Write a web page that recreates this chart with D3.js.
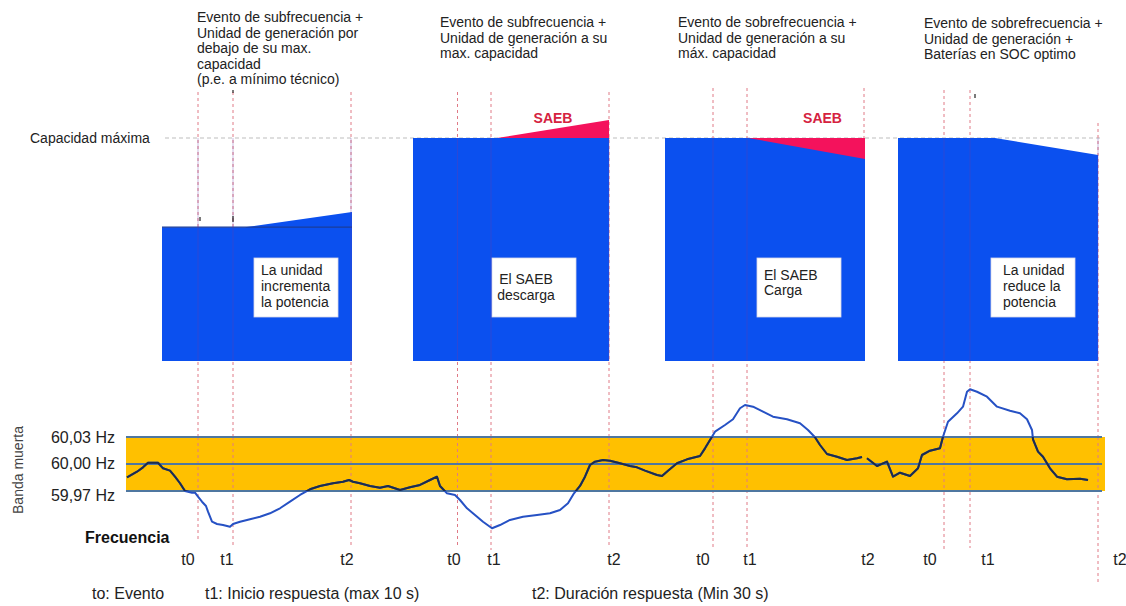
<!DOCTYPE html>
<html><head><meta charset="utf-8">
<script src="https://cdn.jsdelivr.net/npm/d3@7"></script>
<style>
body{margin:0;background:#fff}
svg{display:block}
text{font-family:"Liberation Sans",Arial,sans-serif;fill:#222}
</style>
</head><body>
<svg id="c" width="1126" height="606"></svg>
<script>
// ---------------- DATA ----------------
// Frequency trace: time (arbitrary units) and frequency (Hz); null = gap
const freqT = [0.1,1.1,1.7,2.2,3.2,3.7,4.4,4.9,5.4,5.9,6.6,6.9,7.2,7.6,8.0,8.2,8.6,9.1,9.7,10.4,10.7,11.4,12.4,13.4,14.4,15.4,16.4,17.4,18.4,19.4,20.7,21.7,22.3,22.7,23.4,24.4,25.4,26.2,27.4,28.4,29.4,30.4,31.1,31.4,32.1,32.9,33.4,34.1,34.9,35.7,36.6,37.4,38.4,39.7,41.1,42.4,43.4,44.2,44.8,45.4,45.9,46.4,46.9,47.7,48.4,49.4,50.4,51.1,51.9,53.1,53.6,54.2,55.1,56.1,57.4,57.9,58.4,58.9,59.9,60.7,61.4,61.9,62.7,63.7,64.7,66.1,67.4,68.2,68.9,69.4,70.1,71.1,72.1,73.1,73.6,73.8,74.1,75.1,76.1,76.7,77.4,78.4,79.2,79.6,80.4,81.4,81.7,82.2,83.1,83.7,84.1,84.4,85.1,86.1,87.1,88.4,89.4,90.1,90.6,90.7,91.2,91.7,92.4,93.1,94.1,95.4,96.2];
const freqHz = [59.9852,59.9914,59.9963,60.0014,60.0014,59.9952,59.9926,59.9859,59.9786,59.9700,59.9681,59.9681,59.9637,59.9581,59.9533,59.9470,59.9359,59.9333,59.9322,59.9303,59.9333,59.9359,59.9386,59.9414,59.9452,59.9508,59.9581,59.9656,59.9719,59.9756,59.9786,59.9803,59.9822,59.9803,59.9786,59.9756,59.9737,59.9756,59.9711,59.9741,59.9767,59.9822,59.9859,59.9756,59.9674,59.9656,59.9600,59.9508,59.9433,59.9359,59.9286,59.9322,59.9378,59.9414,59.9433,59.9452,59.9489,59.9563,59.9674,59.9756,59.9859,59.9989,60.0026,60.0044,60.0037,60.0008,59.9978,59.9963,59.9926,59.9878,59.9867,59.9926,60.0008,60.0052,60.0089,60.0174,60.0267,60.0359,60.0433,60.0497,60.0619,60.0656,60.0637,60.0581,60.0526,60.0497,60.0452,60.0378,60.0297,60.0211,60.0111,60.0081,60.0044,60.0063,60.0078,null,60.0063,59.9978,60.0026,59.9859,59.9903,59.9867,59.9952,60.0100,60.0148,60.0174,60.0303,60.0470,60.0563,60.0637,60.0803,60.0830,60.0803,60.0748,60.0637,60.0592,60.0563,60.0497,60.0378,60.0274,60.0137,60.0081,59.9952,59.9859,59.9830,59.9837,59.9822];

// Dead band
const bandLevels = [59.97, 60.00, 60.03];
const bandLabels = ["59,97 Hz", "60,00 Hz", "60,03 Hz"];
const bandStart = 0, bandEnd = 97.9;

// Event markers
const eventNames = ["t0","t1","t2","t0","t1","t2","t0","t1","t2","t0","t1","t2"];
const eventTimes = [7.2,10.7,22.5,33.15,36.5,48.3,58.7,62.1,73.8,81.8,84.4,97.2];
const eventLabelTimes = [6.2,10.1,22.1,32.8,36.8,48.8,57.7,62.4,74.2,80.4,86.2,99.4];

// Power blocks (% of maximum capacity)
const boxStart = [3.6, 28.7, 53.9, 77.2];
const boxEnd = [22.6, 48.3, 73.9, 97.2];
const unitBase = [60, 100, 100, 100];
const rampStart = [11.9, 37.1, 62.2, 86.9];
const unitFinal = [66.8, 100, 100, 92.4];
const saebFinal = [null, 108.1, 90.6, null];
const capacityMax = 100;

// Texts
const scenarioTitles = [
  ["Evento de subfrecuencia +","Unidad de generación por","debajo de su max.","capacidad","(p.e. a mínimo técnico)"],
  ["Evento de subfrecuencia +","Unidad de generación a su","max. capacidad"],
  ["Evento de sobrefrecuencia +","Unidad de generación a su","máx. capacidad"],
  ["Evento de sobrefrecuencia +","Unidad de generación +","Baterías en SOC optimo"]
];
const boxTexts = [
  ["La unidad","incrementa","la potencia"],
  ["El SAEB","descarga"],
  ["El SAEB","Carga"],
  ["La unidad","reduce la","potencia"]
];
const legendTexts = ["to: Evento","t1: Inicio respuesta (max 10 s)","t2: Duración respuesta (Min 30 s)"];

// ---------------- DRAW ----------------
const svg = d3.select("#c");
const x = d3.scaleLinear().domain([0, 97.7]).range([126, 1103]);
const yF = d3.scaleLinear().domain([59.97, 60.03]).range([491, 437]);
const yP = d3.scaleLinear().domain([0, 100]).range([361, 138]);

const BLUE = "#0b50ef", PINK = "#f4125c", RED_TXT = "#d5223f";

// Capacity max line & label
svg.append("line").attr("x1", 165).attr("x2", 1100)
  .attr("y1", yP(capacityMax)).attr("y2", yP(capacityMax))
  .attr("stroke", "#bdbdbd").attr("stroke-width", 1).attr("stroke-dasharray", "4,3");
svg.append("text").attr("x", 30).attr("y", yP(capacityMax) + 5)
  .attr("font-size", 14).text("Capacidad máxima");

// Vertical event lines (under boxes)
const lineTop = [92,92,92,92,92,92,88,88,88,90,90,123];
const lineBot = [542,548,548,548,550,548,550,548,138,550,548,582];
const vg = svg.append("g");
eventTimes.forEach((t,i) => {
  vg.append("line").attr("x1", x(t)).attr("x2", x(t))
    .attr("y1", lineTop[i]).attr("y2", lineBot[i])
    .attr("stroke", "#e07a86").attr("stroke-width", 1).attr("stroke-dasharray", "3,3");
});

// Boxes
const titleX = [197, 440, 678, 924];
const titleY = [22, 27, 27, 28];
const textRectX = [254, 492, 757, 991];
boxStart.forEach((s,i) => {
  const e = boxEnd[i];
  const pts = [[x(s), yP(0)], [x(s), yP(unitBase[i])], [x(rampStart[i]), yP(unitBase[i])],
               [x(e), yP(unitFinal[i])], [x(e), yP(0)]];
  svg.append("path").attr("d", d3.line()(pts) + "Z").attr("fill", BLUE);
  if (unitFinal[i] > unitBase[i]) {
    svg.append("line").attr("x1", x(s)).attr("x2", x(e))
      .attr("y1", yP(unitBase[i])).attr("y2", yP(unitBase[i]))
      .attr("stroke", "#1b3c9a").attr("stroke-width", 1.2);
  }
  if (saebFinal[i] != null) {
    const w = [[x(rampStart[i]), yP(capacityMax)], [x(e), yP(saebFinal[i])], [x(e), yP(capacityMax)]];
    svg.append("path").attr("d", d3.line()(w) + "Z").attr("fill", PINK);
    svg.append("text").attr("x", (x(rampStart[i]) + x(e)) / 2 + (i === 1 ? 0 : 16))
      .attr("y", 123).attr("text-anchor", "middle")
      .attr("font-size", 14).attr("font-weight", "bold").style("fill", RED_TXT).text("SAEB");
  }
  svg.append("rect").attr("x", textRectX[i]).attr("y", 258).attr("width", 84).attr("height", 59)
    .attr("fill", "#fff").attr("stroke", "#d8d8e8").attr("stroke-width", 0.8);
  const centered = (i === 1);
  const tx = svg.append("text").attr("font-size", 14)
    .attr("text-anchor", centered ? "middle" : "start");
  boxTexts[i].forEach((l, k) => {
    tx.append("tspan").attr("x", centered ? textRectX[i] + 34 : textRectX[i] + (i === 3 ? 12 : 7))
      .attr("y", (i === 1 ? 284 : i === 2 ? 280 : 275) + k * (i === 2 ? 15 : 16)).text(l);
  });
  const tt = svg.append("text").attr("font-size", 14);
  scenarioTitles[i].forEach((l, k) => {
    tt.append("tspan").attr("x", titleX[i]).attr("y", titleY[i] + k * 15.6).text(l);
  });
});

// faint overlay of event lines over boxes
eventTimes.forEach((t,i) => {
  svg.append("line").attr("x1", x(t)).attr("x2", x(t))
    .attr("y1", Math.max(lineTop[i], 138)).attr("y2", Math.min(lineBot[i], 361))
    .attr("stroke", "#6a3aa8").attr("stroke-opacity", 0.35).attr("stroke-width", 1);
});

// small black marks
[[233,90,93],[975,94,98],[200,217,221],[233,216,222]].forEach(m => {
  svg.append("line").attr("x1", m[0]).attr("x2", m[0]).attr("y1", m[1]).attr("y2", m[2])
    .attr("stroke", "#222").attr("stroke-width", 1.2);
});

// Dead band
svg.append("rect").attr("x", x(bandStart)).attr("width", x(bandEnd) - x(bandStart))
  .attr("y", yF(60.03)).attr("height", yF(59.97) - yF(60.03)).attr("fill", "#ffc000");
eventTimes.forEach((t,i) => {
  if (lineBot[i] > 491) {
    svg.append("line").attr("x1", x(t)).attr("x2", x(t)).attr("y1", 437).attr("y2", 491)
      .attr("stroke", "#e07a86").attr("stroke-width", 1).attr("stroke-dasharray", "3,3");
  }
});
bandLevels.forEach(v => {
  svg.append("line").attr("x1", x(bandStart)).attr("x2", x(97.6))
    .attr("y1", yF(v)).attr("y2", yF(v)).attr("stroke", "#4f77a0").attr("stroke-width", 2);
});
const labDy = [10, 5, 6];
bandLevels.forEach((v,i) => {
  svg.append("text").attr("x", 115).attr("y", yF(v) + labDy[i]).attr("text-anchor", "end")
    .attr("font-size", 16).text(bandLabels[i]);
});
svg.append("text").attr("transform", "translate(23,470) rotate(-90)").attr("text-anchor", "middle")
  .attr("font-size", 14).style("fill", "#444").text("Banda muerta");

// Frequency trace
const fdata = freqT.map((t,i) => ({t, f: freqHz[i]}));
const line = d3.line().defined(d => d.f != null).x(d => x(d.t)).y(d => yF(d.f));
svg.append("defs").append("clipPath").attr("id", "bandclip").append("rect")
  .attr("x", 0).attr("width", 1126).attr("y", yF(60.03)).attr("height", yF(59.97) - yF(60.03));
svg.append("path").datum(fdata).attr("d", line).attr("fill", "none")
  .attr("stroke", "#2651c4").attr("stroke-width", 2).attr("stroke-linejoin", "round");
svg.append("path").datum(fdata).attr("d", line).attr("fill", "none").attr("clip-path", "url(#bandclip)")
  .attr("stroke", "#1f2d4a").attr("stroke-width", 2).attr("stroke-linejoin", "round");

svg.append("text").attr("x", 85).attr("y", 543).attr("font-size", 16).attr("font-weight", "bold")
  .style("fill", "#111").text("Frecuencia");

eventNames.forEach((n,i) => {
  svg.append("text").attr("x", x(eventLabelTimes[i])).attr("y", 565).attr("text-anchor", "middle")
    .attr("font-size", 16).text(n);
});

const legX = [92, 205, 532];
legendTexts.forEach((l,i) => {
  svg.append("text").attr("x", legX[i]).attr("y", 599).attr("font-size", 16).text(l);
});
</script>
</body></html>
